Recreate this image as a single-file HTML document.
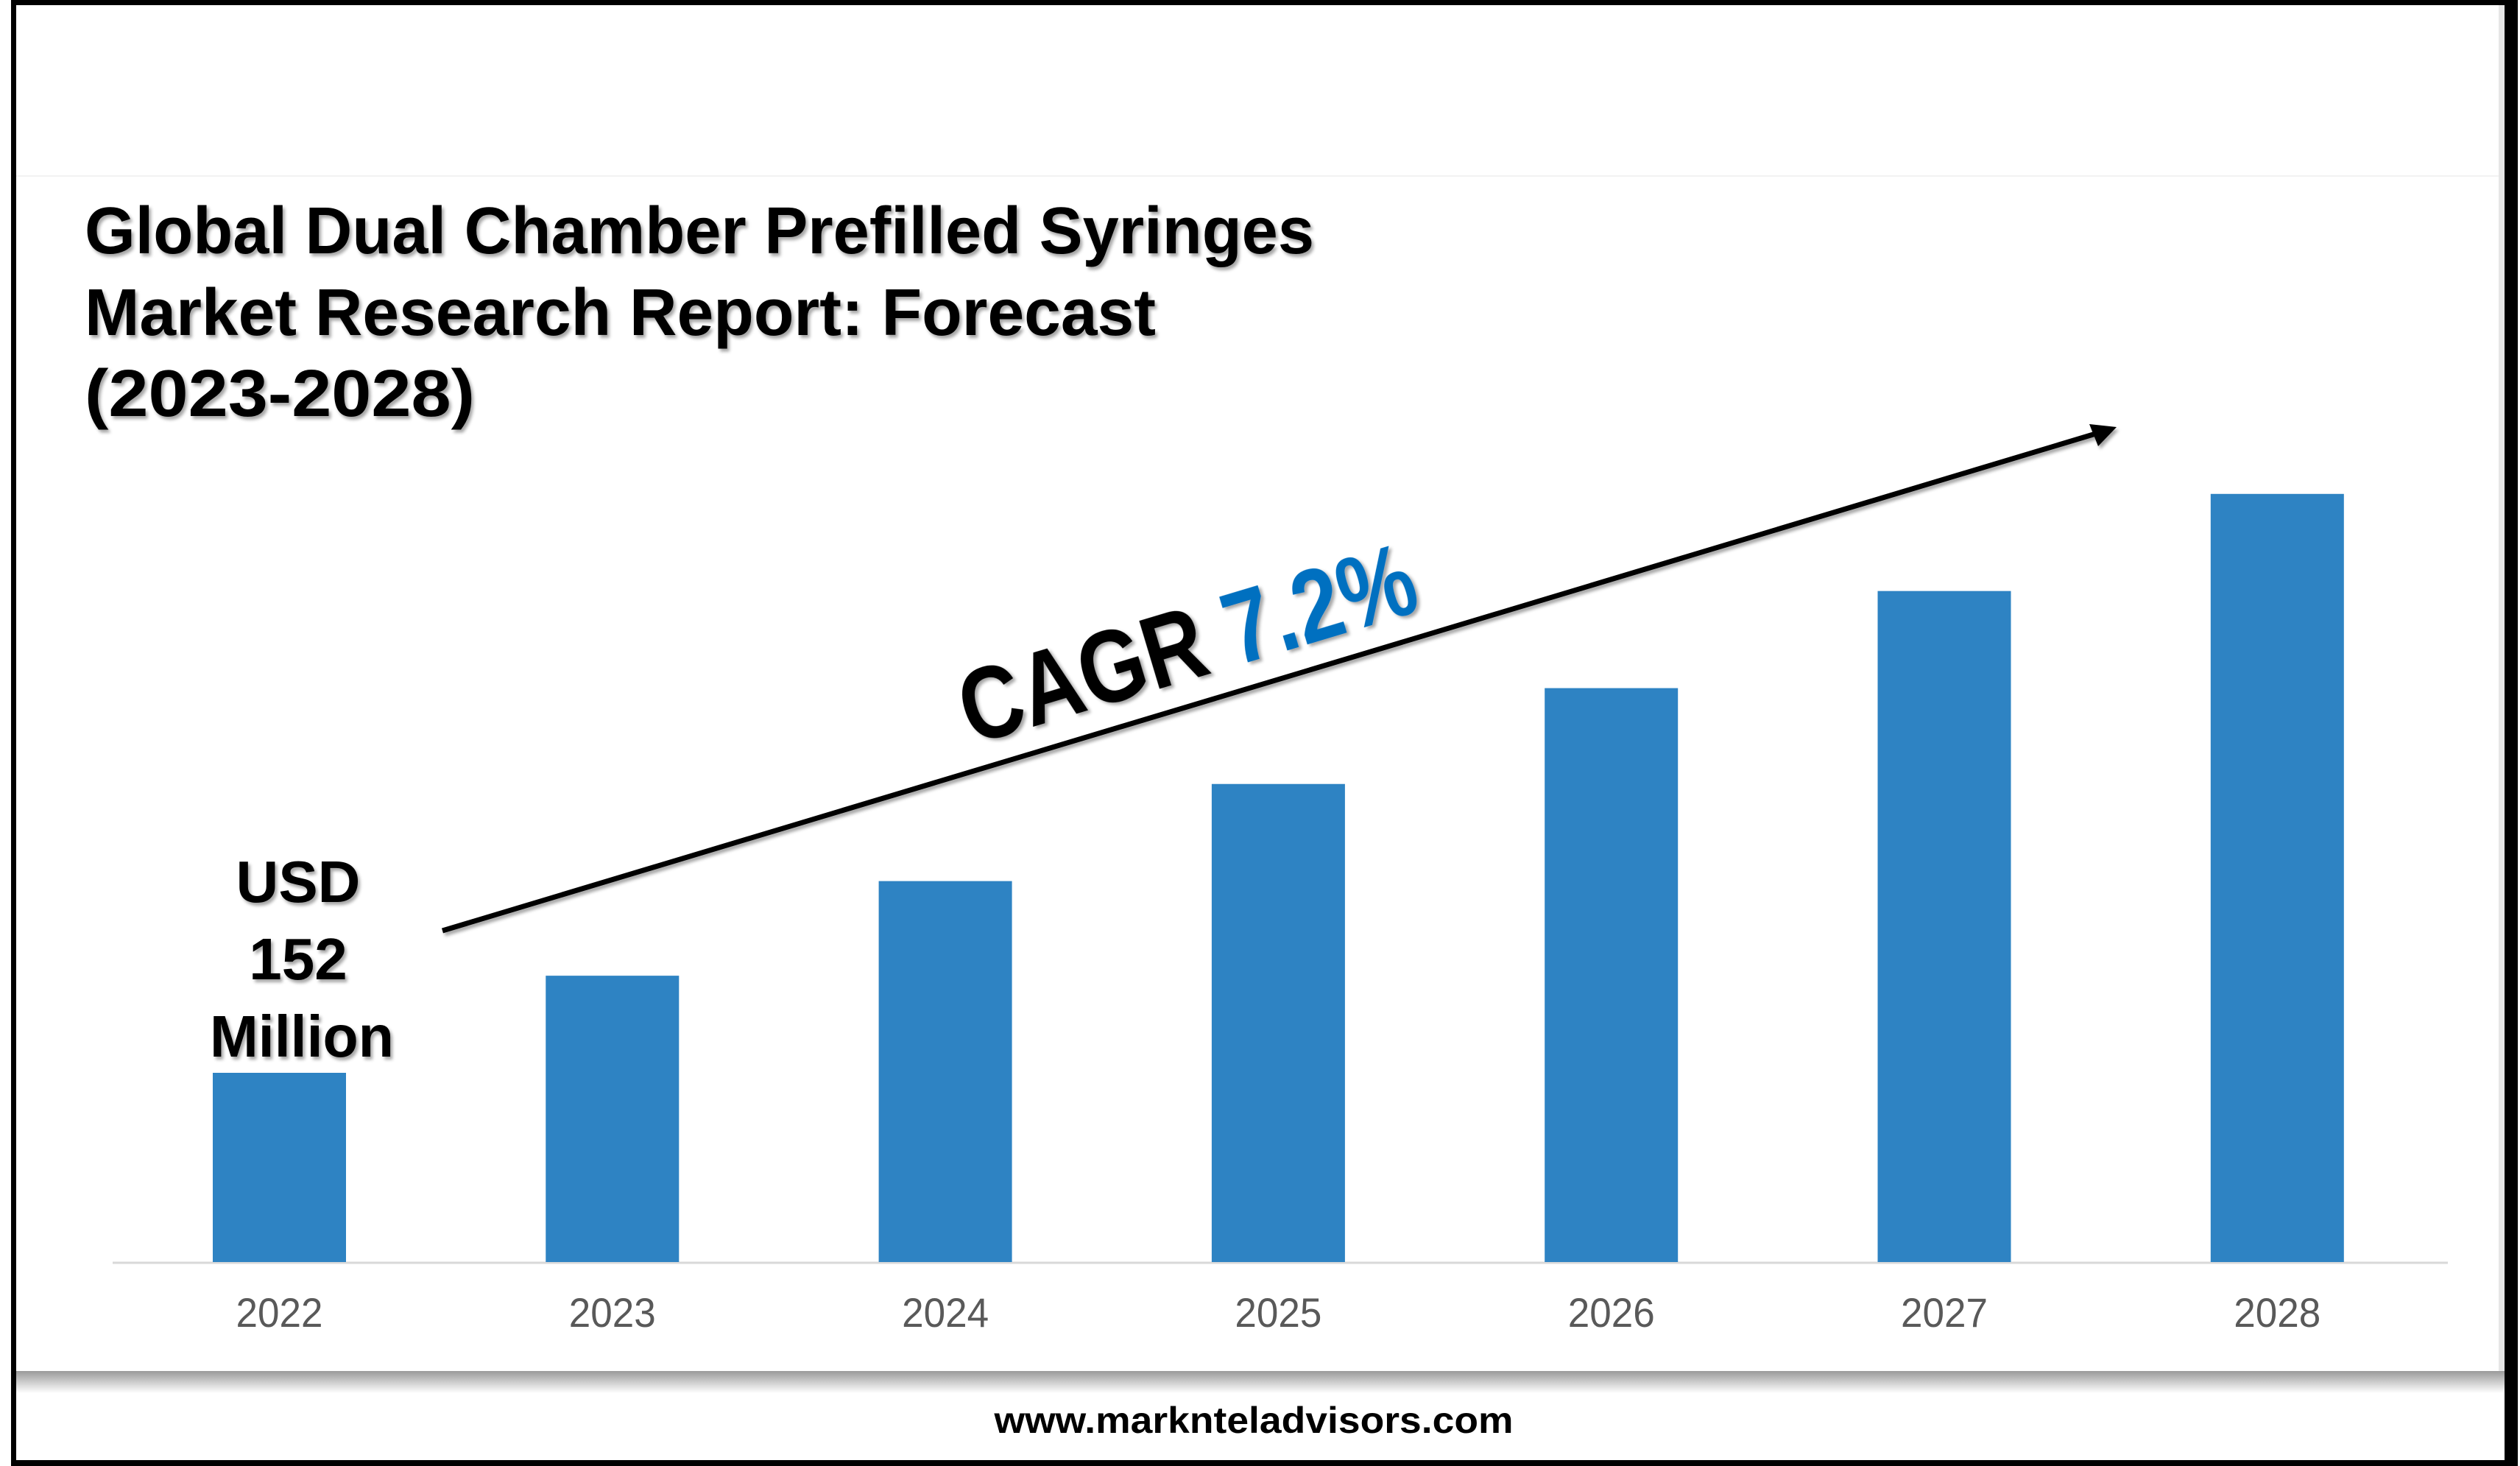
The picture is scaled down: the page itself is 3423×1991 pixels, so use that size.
<!DOCTYPE html>
<html><head><meta charset="utf-8"><style>
html,body{margin:0;padding:0;background:#fff;}
svg{display:block;}
</style></head><body>
<svg id="chart" width="3423" height="1991" viewBox="0 0 3423 1991" xmlns="http://www.w3.org/2000/svg" font-family="'Liberation Sans', sans-serif">
<defs>
<linearGradient id="shadowGrad" x1="0" y1="0" x2="0" y2="1">
<stop offset="0" stop-color="#9a9a9a"/><stop offset="1" stop-color="#ffffff"/>
</linearGradient>
<filter id="txtShadow" x="-5%" y="-5%" width="110%" height="120%">
<feDropShadow dx="3" dy="4" stdDeviation="2" flood-color="#000" flood-opacity="0.35"/>
</filter>
</defs>
<rect x="0" y="0" width="3423" height="1991" fill="#fff"/>
<line x1="22" y1="239" x2="3402" y2="239" stroke="#f2f2f2" stroke-width="2"/>
<rect x="22" y="1862" width="3380" height="30" fill="url(#shadowGrad)"/>
<rect x="3394" y="0" width="8" height="1862" fill="#e6e6e6"/>
<g font-weight="bold" font-size="90" fill="#000" filter="url(#txtShadow)">
<text x="115" y="344" textLength="1670" lengthAdjust="spacingAndGlyphs">Global Dual Chamber Prefilled Syringes</text>
<text x="115" y="455" textLength="1455" lengthAdjust="spacingAndGlyphs">Market Research Report: Forecast</text>
<text x="115" y="565" textLength="530" lengthAdjust="spacingAndGlyphs">(2023-2028)</text>
</g>
<line x1="153" y1="1715" x2="3325" y2="1715" stroke="#d9d9d9" stroke-width="3"/>
<g id="bars"></g>
<g id="labels"></g>
<g filter="url(#txtShadow)">
<line x1="601" y1="1264" x2="2850" y2="588" stroke="#000" stroke-width="7"/>
<polygon points="2875,580 2838,576 2850,606" fill="#000"/>
</g>
<g transform="translate(1320,1012) rotate(-16.7)" filter="url(#txtShadow)">
<text font-size="140" font-weight="bold" x="0" y="0" textLength="640" lengthAdjust="spacingAndGlyphs"><tspan fill="#000">CAGR </tspan><tspan fill="#0070C0">7.2%</tspan></text>
</g>
<g font-weight="bold" font-size="80" fill="#000" text-anchor="middle" filter="url(#txtShadow)">
<text x="405" y="1225">USD</text>
<text x="405" y="1330">152</text>
<text x="410" y="1435" textLength="250" lengthAdjust="spacingAndGlyphs">Million</text>
</g>
<text x="1703" y="1946" text-anchor="middle" font-size="50" font-weight="bold" fill="#000" textLength="705" lengthAdjust="spacingAndGlyphs">www.marknteladvisors.com</text>
<rect x="16" y="0" width="3404" height="7" fill="#000"/>
<rect x="15" y="0" width="7" height="1991" fill="#000"/>
<rect x="3402" y="0" width="18" height="1991" fill="#000"/>
<rect x="15" y="1983" width="3405" height="8" fill="#000"/>
</svg>
<script>
const categories = ["2022","2023","2024","2025","2026","2027","2028"];
const values = [152, 230, 306, 384, 461, 539, 617];
const NS = "http://www.w3.org/2000/svg";
const baseY = 1714, pxPerUnit = 257/152;
const firstX = 289, step = 452.3, barW = 181;
function xPos(i){ return firstX + i*step; }
function yPos(v){ return baseY - v*pxPerUnit; }
const gb = document.getElementById('bars'), gl = document.getElementById('labels');
categories.forEach((c,i)=>{
  const r = document.createElementNS(NS,'rect');
  r.setAttribute('x', xPos(i)); r.setAttribute('width', barW);
  r.setAttribute('y', yPos(values[i])); r.setAttribute('height', baseY - yPos(values[i]));
  r.setAttribute('fill', '#2E83C3');
  
  
  gb.appendChild(r);
  const t = document.createElementNS(NS,'text');
  t.setAttribute('x', xPos(i) + barW/2); t.setAttribute('y', 1802);
  t.setAttribute('text-anchor','middle'); t.setAttribute('font-size','56');
  t.setAttribute('fill','#595959');
  t.setAttribute('textLength','118'); t.setAttribute('lengthAdjust','spacingAndGlyphs');
  t.textContent = c;
  
  
  gl.appendChild(t);
});
</script>
</body></html>
